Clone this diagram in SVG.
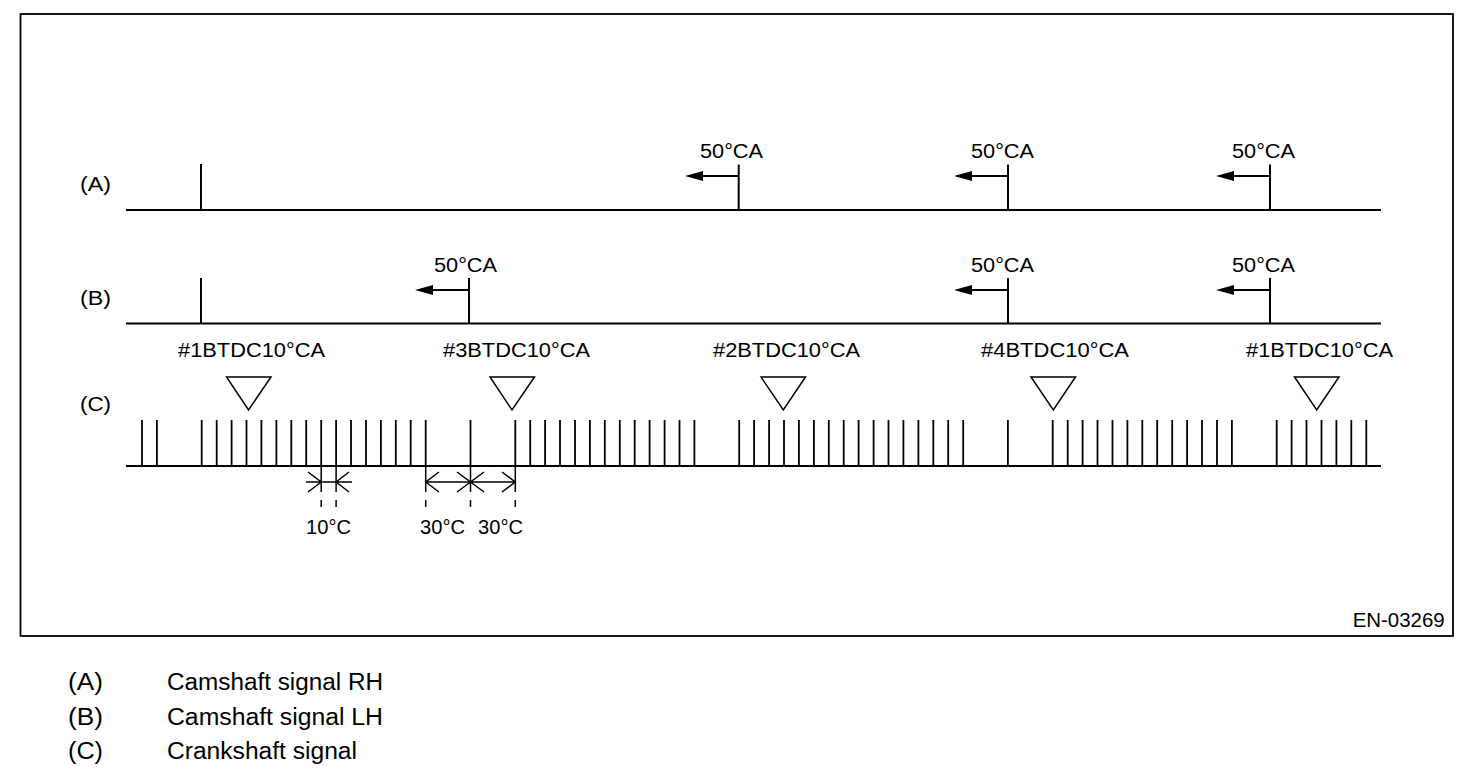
<svg xmlns="http://www.w3.org/2000/svg" width="1472" height="784" viewBox="0 0 1472 784">
<style>
text{font-family:"Liberation Sans",Arial,sans-serif;fill:#000}
.t{font-size:20px}
.lg{font-size:23.5px}
.ln{stroke:#000;stroke-width:2;fill:none}
.tk{stroke:#000;stroke-width:1.8;fill:none}
.thin{stroke:#000;stroke-width:1.5;fill:none}
.tri{stroke:#000;stroke-width:1.5;fill:#fff}
</style>
<defs>
<marker id="ah" viewBox="0 0 18 10" refX="0" refY="5" markerWidth="18" markerHeight="10" markerUnits="userSpaceOnUse" orient="auto-start-reverse">
<path d="M0,5 L18,0 L18,10 Z" fill="#000"/>
</marker>
<g id="arr50">
<path d="M0,0 V-34" class="ln"/>
<path d="M0,-34 H-36" class="ln" marker-end="url(#ah)"/>
</g>
</defs>
<rect x="20.5" y="14" width="1432.5" height="622" fill="none" stroke="#000" stroke-width="1.8"/>
<text class="t" x="1352.7" y="626.7" textLength="92" lengthAdjust="spacingAndGlyphs">EN-03269</text>

<g id="signalA">
<text class="t" x="80" y="191" textLength="31" lengthAdjust="spacingAndGlyphs">(A)</text>
<path class="ln" d="M126,210 H1381 M201,210 V164"/>
<path class="ln" d="M738.7,210 V164.5 M1008,210 V164.5 M1270,210 V164.5"/>
<path class="ln" d="M738.7,176 H703 M1008,176 H972 M1270,176 H1234"/>
<path d="M685,176 L703,171 L703,181 Z M954,176 L972,171 L972,181 Z M1216,176 L1234,171 L1234,181 Z" fill="#000"/>
<text class="t" x="700" y="158" textLength="63" lengthAdjust="spacingAndGlyphs">50°CA</text>
<text class="t" x="971" y="158" textLength="63" lengthAdjust="spacingAndGlyphs">50°CA</text>
<text class="t" x="1232" y="158" textLength="63" lengthAdjust="spacingAndGlyphs">50°CA</text>
</g>

<g id="signalB">
<text class="t" x="80" y="305" textLength="31" lengthAdjust="spacingAndGlyphs">(B)</text>
<path class="ln" d="M126,323.5 H1381 M201,323.5 V278"/>
<path class="ln" d="M469,323.5 V278 M1008,323.5 V278 M1270,323.5 V278"/>
<path class="ln" d="M469,290 H433 M1008,290 H972 M1270,290 H1234"/>
<path d="M415,290 L433,285 L433,295 Z M954,290 L972,285 L972,295 Z M1216,290 L1234,285 L1234,295 Z" fill="#000"/>
<text class="t" x="434" y="272" textLength="63" lengthAdjust="spacingAndGlyphs">50°CA</text>
<text class="t" x="971" y="272" textLength="63" lengthAdjust="spacingAndGlyphs">50°CA</text>
<text class="t" x="1232" y="272" textLength="63" lengthAdjust="spacingAndGlyphs">50°CA</text>
</g>

<g id="signalC">
<text class="t" x="80" y="411" textLength="31" lengthAdjust="spacingAndGlyphs">(C)</text>
<path class="ln" d="M126,466 H1381"/>
<path class="tk" d="M142,466V420 M156.9,466V420 M201.7,466V420 M216.7,466V420 M231.6,466V420 M246.5,466V420 M261.4,466V420 M276.4,466V420 M291.3,466V420 M306.2,466V420 M321.2,466V420 M336.1,466V420 M351,466V420 M366,466V420 M380.9,466V420 M395.8,466V420 M410.7,466V420 M425.7,466V420 M470.5,466V420 M515.3,466V420 M530.2,466V420 M545.1,466V420 M560,466V420 M575,466V420 M589.9,466V420 M604.8,466V420 M619.8,466V420 M634.7,466V420 M649.6,466V420 M664.6,466V420 M679.5,466V420 M694.4,466V420 M739.2,466V420 M754.1,466V420 M769.1,466V420 M784,466V420 M798.9,466V420 M813.9,466V420 M828.8,466V420 M843.7,466V420 M858.6,466V420 M873.6,466V420 M888.5,466V420 M903.4,466V420 M918.4,466V420 M933.3,466V420 M948.2,466V420 M963.2,466V420 M1007.9,466V420 M1052.7,466V420 M1067.7,466V420 M1082.6,466V420 M1097.5,466V420 M1112.5,466V420 M1127.4,466V420 M1142.3,466V420 M1157.2,466V420 M1172.2,466V420 M1187.1,466V420 M1202,466V420 M1217,466V420 M1231.9,466V420 M1276.7,466V420 M1291.6,466V420 M1306.5,466V420 M1321.5,466V420 M1336.4,466V420 M1351.3,466V420 M1366.3,466V420"/>
</g>

<g id="tdc">
<path class="tri" d="M226.5,377 H271 L248.5,410 Z"/>
<path class="tri" d="M490,377 H534.5 L512,410 Z"/>
<path class="tri" d="M761,377 H805.5 L783.3,410 Z"/>
<path class="tri" d="M1031,377 H1075.5 L1053.3,410 Z"/>
<path class="tri" d="M1294.5,377 H1339 L1316.7,410 Z"/>
<text class="t" x="178" y="357" textLength="147" lengthAdjust="spacingAndGlyphs">#1BTDC10°CA</text>
<text class="t" x="443" y="357" textLength="147" lengthAdjust="spacingAndGlyphs">#3BTDC10°CA</text>
<text class="t" x="713" y="357" textLength="147" lengthAdjust="spacingAndGlyphs">#2BTDC10°CA</text>
<text class="t" x="981" y="357" textLength="148" lengthAdjust="spacingAndGlyphs">#4BTDC10°CA</text>
<text class="t" x="1246" y="357" textLength="147" lengthAdjust="spacingAndGlyphs">#1BTDC10°CA</text>
</g>

<g id="dimensions">
<path class="thin" d="M321.2,466 V492 M321.2,500 V507 M336.1,466 V492 M336.1,500 V507"/>
<path class="thin" d="M306,482 H352 M308,472 L321.2,482 L308,492 M349,472 L336.1,482 L349,492"/>
<path class="thin" d="M425.7,466 V492 M425.7,500 V507 M470.5,466 V492 M470.5,500 V507 M515.3,466 V492 M515.3,500 V507"/>
<path class="thin" d="M425.7,482 H515.3 M439,472 L425.7,482 L439,492 M457,472 L470.5,482 L457,492 M484,472 L470.5,482 L484,492 M502,472 L515.3,482 L502,492"/>
<text class="t" x="306" y="534" textLength="45" lengthAdjust="spacingAndGlyphs">10°C</text>
<text class="t" x="420" y="534" textLength="45" lengthAdjust="spacingAndGlyphs">30°C</text>
<text class="t" x="478" y="534" textLength="45" lengthAdjust="spacingAndGlyphs">30°C</text>
</g>

<g id="legend">
<text class="lg" x="68" y="690" textLength="35" lengthAdjust="spacingAndGlyphs">(A)</text>
<text class="lg" x="167" y="690" textLength="216" lengthAdjust="spacingAndGlyphs">Camshaft signal RH</text>
<text class="lg" x="68" y="725" textLength="35" lengthAdjust="spacingAndGlyphs">(B)</text>
<text class="lg" x="167" y="725" textLength="216" lengthAdjust="spacingAndGlyphs">Camshaft signal LH</text>
<text class="lg" x="68" y="759" textLength="35" lengthAdjust="spacingAndGlyphs">(C)</text>
<text class="lg" x="167" y="759" textLength="190" lengthAdjust="spacingAndGlyphs">Crankshaft signal</text>
</g>
</svg>
